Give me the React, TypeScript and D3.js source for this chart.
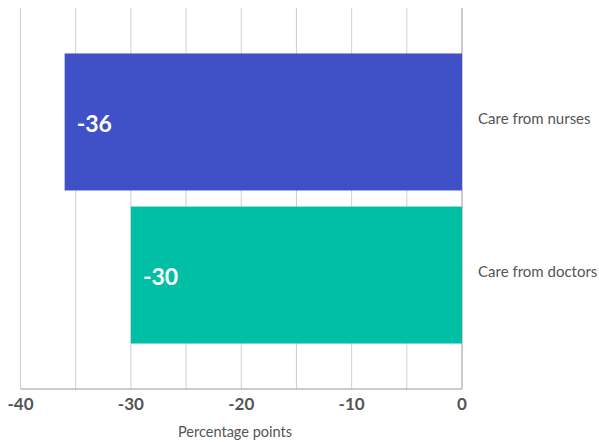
import React from "react";
import * as d3 from "d3";

const categories = ["Care from nurses", "Care from doctors"];
const values = [-36, -30];
const colors = ["#4051C7", "#00BFA5"];
const tickValues = [-40, -30, -20, -10, 0];
const gridValues = [-40, -35, -30, -25, -20, -15, -10, -5, 0];
const axisTitle = "Percentage points";

const W = 599;
const H = 442;
const FONT = "Lato, 'Open Sans', sans-serif";

export default function App() {
  const x = d3.scaleLinear().domain([-40, 0]).range([20.5, 462]);
  const y = d3
    .scaleBand<string>()
    .domain(categories)
    .range([8, 389])
    .paddingInner(0.105)
    .paddingOuter(0.297);
  const bottom = 389;
  return (
    <svg
      width={W}
      height={H}
      style={{ position: "absolute", left: 0, top: 0 }}
      fontFamily={FONT}
    >
      {gridValues.map((g) => (
        <line
          key={g}
          x1={x(g)}
          x2={x(g)}
          y1={8}
          y2={bottom}
          stroke={g === 0 ? "#999" : "#cfcfcf"}
          strokeWidth={1}
        />
      ))}
      {categories.map((c, i) => {
        const y0 = y(c)!;
        const bw = y.bandwidth();
        return (
          <g key={c}>
            <rect
              x={x(values[i])}
              y={y0}
              width={x(0) - x(values[i])}
              height={bw}
              fill={colors[i]}
            />
            <text
              x={x(values[i]) + 12}
              y={y0 + bw / 2 + 4}
              dominantBaseline="middle"
              fill="#fff"
              fontSize={23}
              fontWeight={700}
            >
              {values[i]}
            </text>
            <text
              x={478}
              y={y0 + bw / 2 - 2}
              dominantBaseline="middle"
              fill="#555"
              fontSize={15}
            >
              {c}
            </text>
          </g>
        );
      })}
      <line x1={x(-40)} x2={x(0)} y1={bottom} y2={bottom} stroke="#999" strokeWidth={1} />
      {tickValues.map((t) => (
        <text
          key={t}
          x={x(t)}
          y={406}
          textAnchor="middle"
          dominantBaseline="middle"
          fill="#555"
          fontSize={17}
          fontWeight={700}
        >
          {t}
        </text>
      ))}
      <text
        x={235}
        y={433}
        textAnchor="middle"
        dominantBaseline="middle"
        fill="#555"
        fontSize={14.5}
      >
        {axisTitle}
      </text>
    </svg>
  );
}
